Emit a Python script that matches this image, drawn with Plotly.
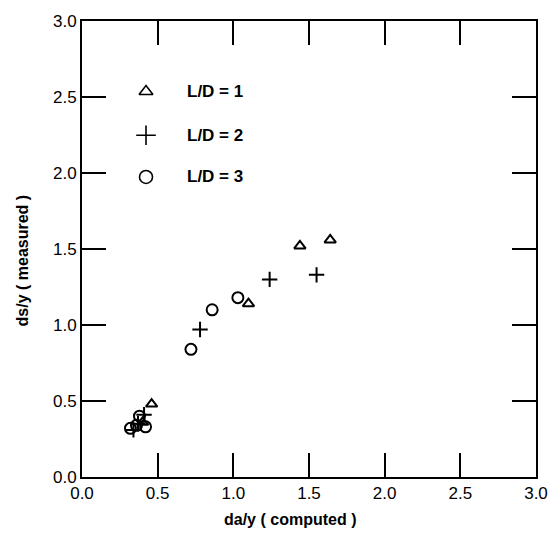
import plotly.graph_objects as go

# Scour depth ratio: computed vs. measured, grouped by pier spacing L/D
ld1_computed = [0.46, 0.40, 1.10, 1.44, 1.64]
ld1_measured = [0.48, 0.36, 1.14, 1.52, 1.56]

ld2_computed = [0.41, 0.37, 0.34, 0.78, 1.24, 1.55]
ld2_measured = [0.41, 0.35, 0.31, 0.97, 1.30, 1.33]

ld3_computed = [0.32, 0.36, 0.38, 0.42, 0.72, 0.86, 1.03]
ld3_measured = [0.32, 0.34, 0.40, 0.33, 0.84, 1.10, 1.18]

series_names = ["L/D = 1", "L/D = 2", "L/D = 3"]
x_title = "da/y ( computed )"
y_title = "ds/y ( measured )"

FONT = "Liberation Sans, Arial, sans-serif"
INK = "#000000"

symbols = ["triangle-up-open", "cross-thin-open", "circle-open"]
data_sizes = [10, 11, 11]
key_sizes = [12, 14, 13]

fig = go.Figure()
for xs, ys, sym, sz in zip(
    [ld1_computed, ld2_computed, ld3_computed],
    [ld1_measured, ld2_measured, ld3_measured],
    symbols, data_sizes,
):
    fig.add_trace(go.Scatter(
        x=xs, y=ys, mode="markers", showlegend=False,
        marker=dict(symbol=sym, size=sz, color=INK,
                    line=dict(color=INK, width=2)),
    ))

# in-plot key: symbol followed by its label
key_x = 0.423
key_text_x = 0.68
key_rows = [2.536, 2.248, 1.974]
for name, sym, sz, ky in zip(series_names, symbols, key_sizes, key_rows):
    fig.add_trace(go.Scatter(
        x=[key_x], y=[ky], mode="markers", showlegend=False,
        marker=dict(symbol=sym, size=sz, color=INK,
                    line=dict(color=INK, width=1.6)),
    ))
    fig.add_annotation(
        x=key_text_x, y=ky, xref="x", yref="y", text=f"<b>{name}</b>",
        showarrow=False, xanchor="left", yanchor="middle",
        font=dict(family=FONT, size=17, color=INK),
    )

axis_common = dict(
    range=[0, 3],
    tickmode="linear", tick0=0, dtick=0.5, tickformat=".1f",
    ticks="inside", ticklen=24, tickwidth=2, tickcolor=INK,
    showline=True, linecolor=INK, linewidth=2, mirror="allticks",
    showgrid=False, zeroline=False,
    tickfont=dict(family=FONT, size=17, color=INK),
)

fig.update_xaxes(**axis_common)
fig.update_yaxes(**axis_common)

fig.add_annotation(
    x=0.458, y=-0.094, xref="paper", yref="paper",
    text=f"<b>{x_title}</b>", showarrow=False,
    xanchor="center", yanchor="middle",
    font=dict(family=FONT, size=16, color=INK),
)
fig.add_annotation(
    x=-0.132, y=0.475, xref="paper", yref="paper",
    text=f"<b>{y_title}</b>", showarrow=False, textangle=-90,
    xanchor="center", yanchor="middle",
    font=dict(family=FONT, size=16, color=INK),
)

fig.update_layout(
    width=560, height=533,
    margin=dict(l=82, r=17, t=19, b=56),
    paper_bgcolor="white", plot_bgcolor="white",
    showlegend=False,
)

fig.write_html("out.html")
